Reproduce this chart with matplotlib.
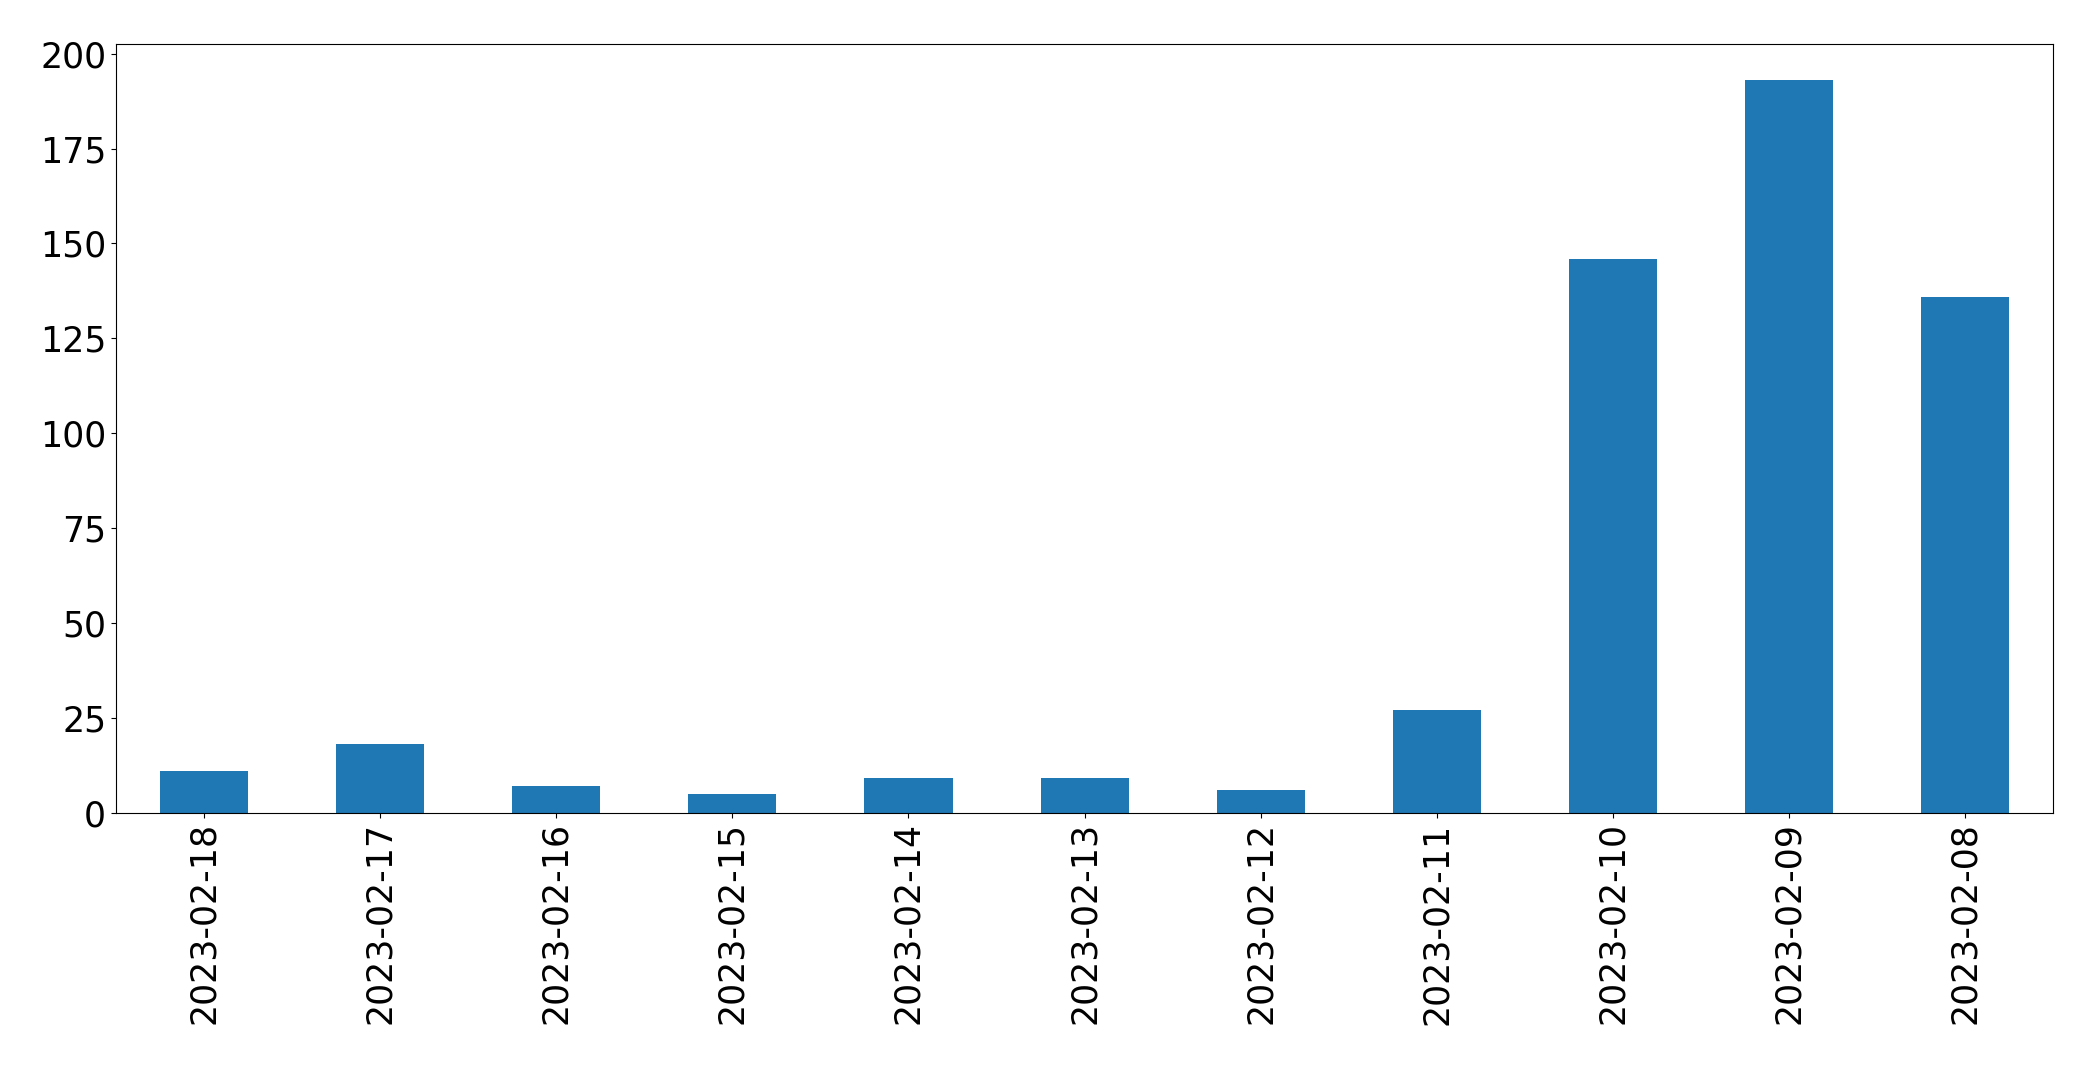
import matplotlib
matplotlib.use('Agg')
import matplotlib.pyplot as plt
import pandas as pd

# 每日数量
dates = ['2023-02-18', '2023-02-17', '2023-02-16', '2023-02-15', '2023-02-14',
         '2023-02-13', '2023-02-12', '2023-02-11', '2023-02-10', '2023-02-09',
         '2023-02-08']
counts = [11, 18, 7, 5, 9, 9, 6, 27, 146, 193, 136]

s = pd.Series(counts, index=dates)

fig = plt.figure(figsize=(20.93, 10.65), dpi=100)
ax = fig.add_axes([0.0554, 0.237, 0.9256, 0.722])
s.plot(kind='bar', ax=ax, color='#1f77b4')

ax.tick_params(axis='both', labelsize=25)
plt.setp(ax.get_xticklabels(), rotation=90)

plt.savefig('out.png', dpi=100)
